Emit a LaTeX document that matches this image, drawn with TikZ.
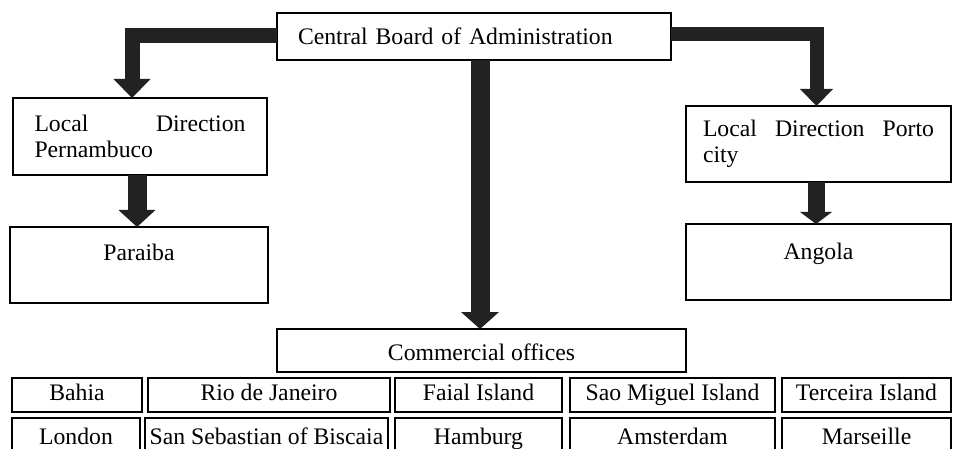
\documentclass[tikz,border=0pt]{standalone}
\usepackage{fontspec}
\setmainfont{Liberation Serif}
\usetikzlibrary{arrows.meta}
\definecolor{arrowc}{HTML}{222222}
\begin{document}
\begin{tikzpicture}[x=1pt,y=-1pt,
  box/.style={draw=black, line width=1.4pt, rectangle, anchor=north west,
    inner sep=0pt, outer sep=0pt, font=\fontsize{23.7}{26}\selectfont},
  cell/.style={box, line width=1.9pt, align=center, text height=16pt, text depth=5pt, minimum height=#1},
  cell/.default=34pt,
  bigarrow/.style={draw=arrowc, line join=miter, line cap=butt},
]
\useasboundingbox (0,0) rectangle (953,449);
\clip (0,0) rectangle (953,449);

% top box
\node[box, minimum width=394pt, minimum height=47pt, text width=352pt, align=left] (cb) at (277,13) {Central Board of Administration};

% local directions
\node[box, minimum width=254pt, minimum height=77pt, text width=211pt, align=left] (lp) at (13,98) {Local\hfill Direction\\Pernambuco};
\node[box, minimum width=265pt, minimum height=76pt, text width=231pt, align=left] (pd) at (686,106) {Local\hfill Direction\hfill Porto\\city};

% second level
\node[box, minimum width=258pt, minimum height=76pt, text height=4pt, text depth=12pt] (pa) at (10,227) {Paraiba};
\node[box, minimum width=265pt, minimum height=76pt, text height=4pt, text depth=10pt] (an) at (686,224) {Angola};

% commercial offices
\node[box, minimum width=409pt, minimum height=43pt, text height=19pt, text depth=0pt] (co) at (277,329) {Commercial offices};

% row 1
\node[cell, minimum width=130pt] (bah) at (12,378) {Bahia};
\node[cell, minimum width=242pt] (rio) at (148,378) {Rio de Janeiro};
\node[cell, minimum width=167pt] (fai) at (395,378) {Faial Island};
\node[cell, minimum width=205pt] (sao) at (570,378) {Sao Miguel Island};
\node[cell, minimum width=169pt] (ter) at (782,378) {Terceira Island};

% row 2
\node[cell=42pt, minimum width=128pt] (lon) at (12,418) {London};
\node[cell=42pt, minimum width=243pt] (seb) at (145,418) {San Sebastian of Biscaia};
\node[cell=42pt, minimum width=167pt] (ham) at (395,418) {Hamburg};
\node[cell=42pt, minimum width=205pt] (ams) at (570,418) {Amsterdam};
\node[cell=42pt, minimum width=169pt] (mar) at (782,418) {Marseille};

% arrows
\draw[bigarrow, line width=15pt, -{Triangle[width=37pt,length=19pt,line width=0pt]}]
  ([yshift=1pt]cb.west) -| ([xshift=-8pt]lp.north);
\draw[bigarrow, line width=14pt, -{Triangle[width=33pt,length=17pt,line width=0pt]}]
  ([yshift=2pt]cb.east) -| ([xshift=-2pt]pd.north);
\draw[bigarrow, line width=19pt, -{Triangle[width=38pt,length=17pt,line width=0pt]}]
  ([xshift=-1.5pt]cb.south -| co.north) -- ([xshift=-1.5pt]co.north);
\draw[bigarrow, line width=19pt, -{Triangle[width=37pt,length=17pt,line width=0pt]}]
  ([xshift=-3pt]lp.south) -- ([xshift=-2pt]pa.north);
\draw[bigarrow, line width=17pt, -{Triangle[width=32pt,length=12pt,line width=0pt]}]
  ([xshift=-2.5pt]pd.south) -- ([xshift=-2.5pt]an.north);
\end{tikzpicture}
\end{document}
